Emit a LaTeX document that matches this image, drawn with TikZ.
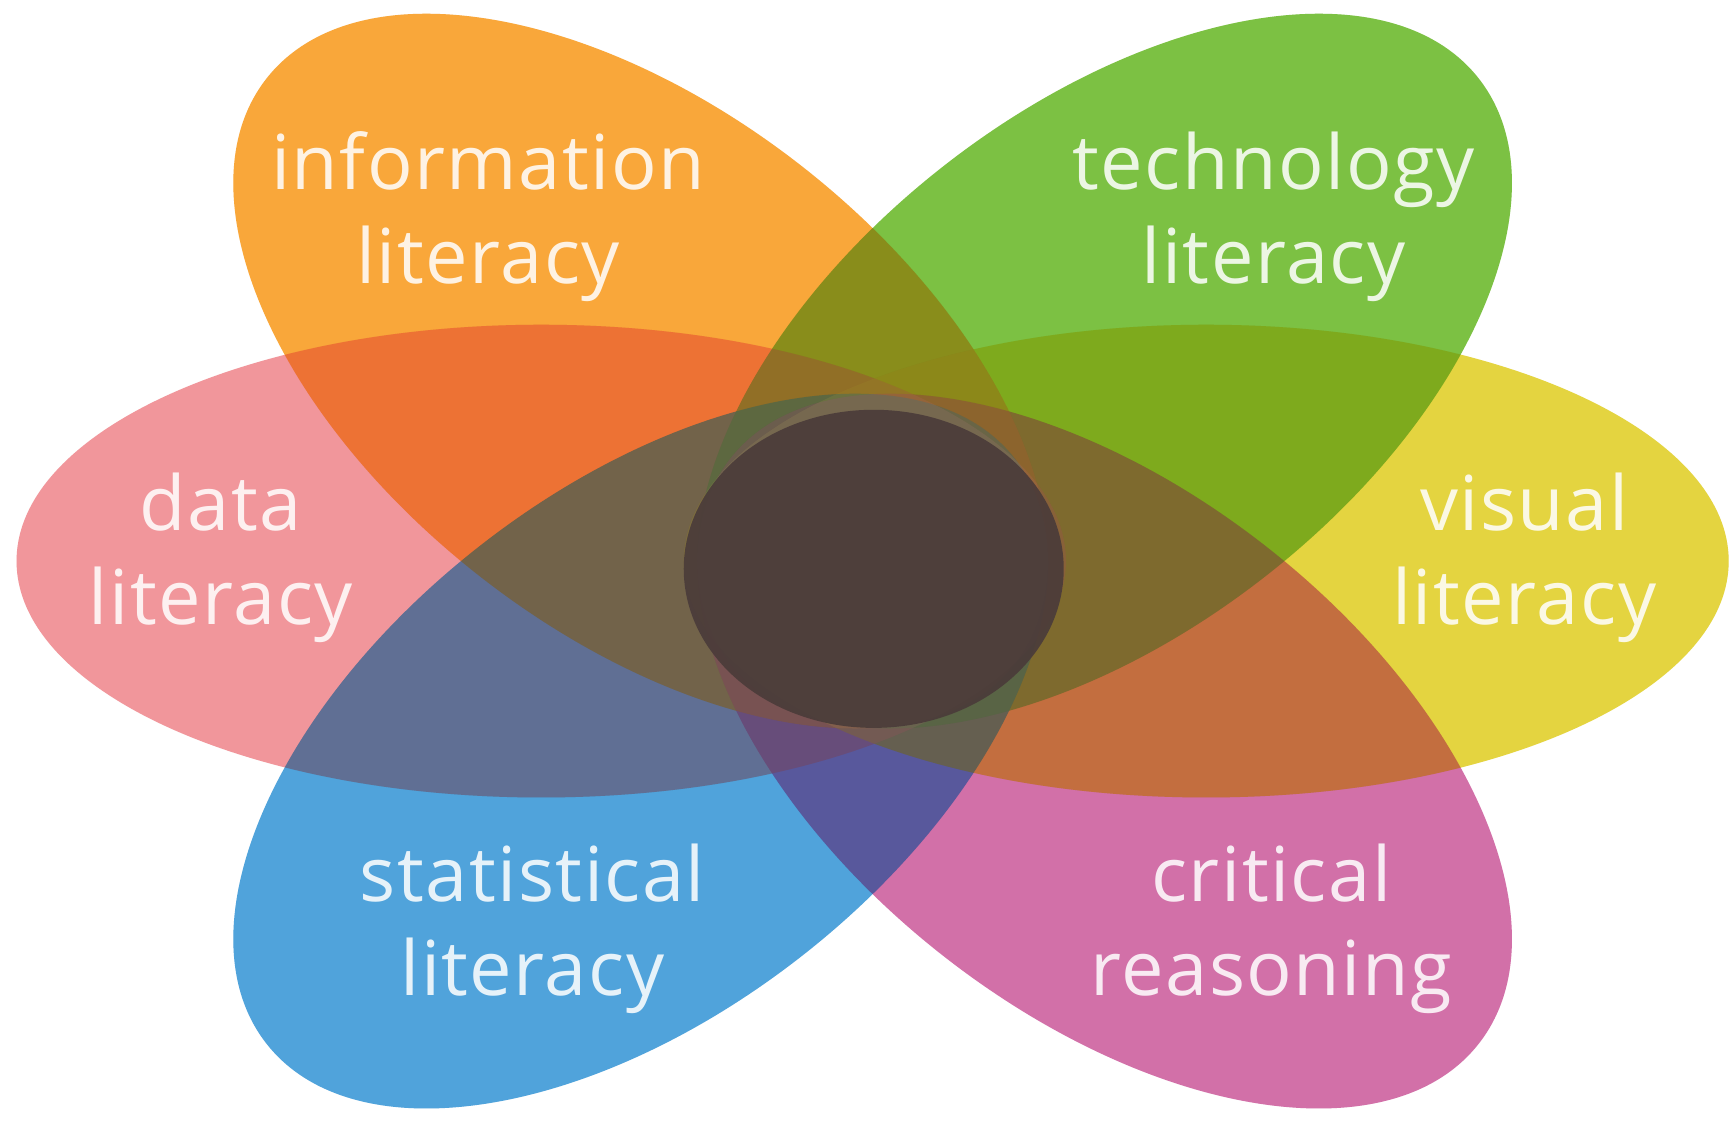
\documentclass[tikz,border=0pt]{standalone}
\usepackage{fontspec}
\setmainfont{Open Sans}[LetterSpace=2]
\usepackage{tikz}
\usetikzlibrary{positioning}
\usepackage{xcolor}
\definecolor{infoOrange}{RGB}{249,167,58}
\definecolor{techGreen}{RGB}{124,193,67}
\definecolor{dataPink}{RGB}{241,150,155}
\definecolor{visYellow}{RGB}{228,212,64}
\definecolor{statBlue}{RGB}{80,163,219}
\definecolor{critMagenta}{RGB}{210,112,168}
\definecolor{coreBrown}{RGB}{75,60,58}
\tikzstyle{petal} = [blend mode=multiply]
\tikzstyle{tint} = [fill opacity=0.15]
\tikzstyle{lbl} = [text=white, text opacity=0.86, align=center, inner sep=0pt, font=\fontsize{19.5}{24.2}\selectfont]
% colour / centre x / centre y / angle / x radius / y radius
\def\petals{dataPink/490/508/0/475/214, visYellow/1092/508/0/473/214,
  infoOrange/580/680/-38/430/236, techGreen/1000/680/38/430/236,
  statBlue/580/336/38/430/236, critMagenta/1000/336/-38/430/236}

\begin{document}
\begin{tikzpicture}[x=0.01cm, y=0.01cm]
  \fill[white] (0,0) rectangle (1568,1016);
  \useasboundingbox (0,0) rectangle (1568,1016);

  % petals, multiplied
  \foreach \col/\cx/\cy/\ang/\rx/\ry in \petals
    \fill[petal, \col, rotate around={\ang:(\cx,\cy)}] (\cx,\cy) ellipse [x radius=\rx, y radius=\ry];
  % petals again, thin wash to lighten the overlaps
  \foreach \col/\cx/\cy/\ang/\rx/\ry in \petals
    \fill[tint, \col, rotate around={\ang:(\cx,\cy)}] (\cx,\cy) ellipse [x radius=\rx, y radius=\ry];

  % centre
  \fill[coreBrown, opacity=0.93] (791,501) ellipse [x radius=172, y radius=144];

  \node[lbl] (info) at (442,820) {information\\literacy};
  \node[lbl] (tech) at (1153,820) {technology\\literacy};
  \node[lbl] (data) at (200,511) {data\\literacy};
  \node[lbl] (vis) at (1380,511) {visual\\literacy};
  \node[lbl] (stat) at (482,175) {statistical\\literacy};
  \node[lbl] (crit) at (1151,175) {critical\\reasoning};

\end{tikzpicture}
\end{document}
